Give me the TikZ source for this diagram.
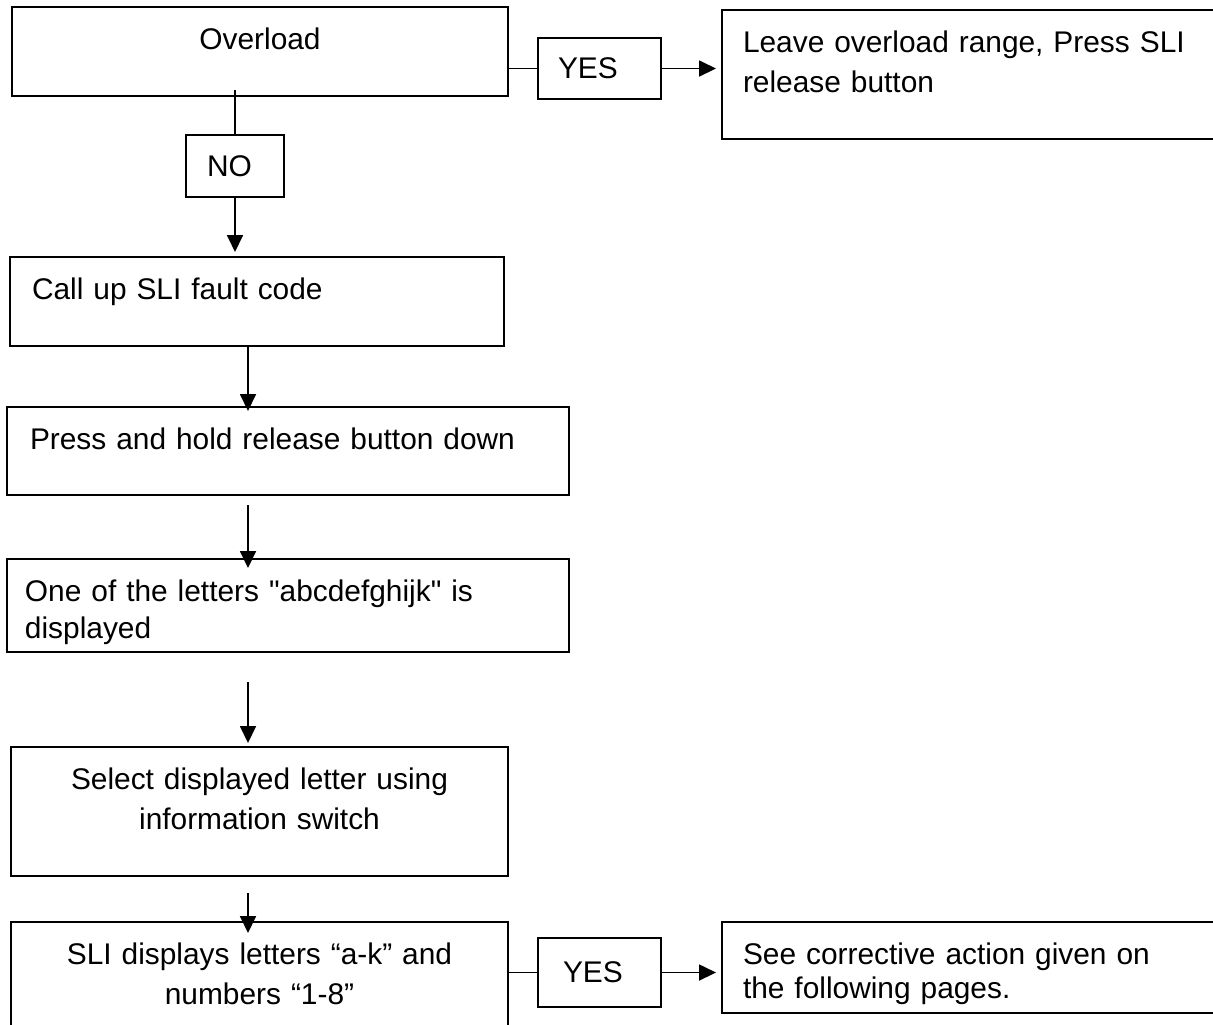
\documentclass[tikz,border=0pt]{standalone}
\usepackage{fontspec}
\setmainfont{Liberation Sans}[Ligatures=TeXOff]
\usepackage{tikz}
\usetikzlibrary{positioning, arrows.meta}

\begin{document}
\begin{tikzpicture}[
            stepbox/.style={draw, line width=1.2pt, anchor=north west, outer sep=0pt, inner xsep=0.42cm, inner ysep=0.42cm, text height=0.43cm, font=\fontsize{17}{22.8}\selectfont},
            answerbox/.style={draw, line width=1.2pt, anchor=north west, outer sep=0pt, align=left, minimum width=2.46cm, font=\fontsize{17}{22.8}\selectfont},
            link/.style={line width=1pt},
            flow/.style={link, -{Triangle[length=0.34cm, width=0.32cm]}}
        ]
            \useasboundingbox (0, 0) rectangle (24.26, -20.48);

            \coordinate (spine) at (4.96, 0);

            \node[stepbox, align=center, text width=9.08cm, text depth=0.51cm] at (0.24, -0.14) (overload) {Overload};

            \node[answerbox, minimum height=1.22cm, inner xsep=0.4cm, text width=1.66cm] at (10.76, -0.76) (yes1) {YES};

            \node[stepbox, align=left, text width=9.52cm, text depth=1.31cm] at (14.44, -0.20) (leave) {
                Leave overload range, Press SLI\\
                release button
            };

            \node[answerbox, minimum width=1.96cm, minimum height=1.24cm, inner xsep=0.42cm, text width=1.12cm] at (3.72, -2.70) (no) {NO};

            \node[stepbox, align=left, inner xsep=0.44cm, text width=9.0cm, text depth=0.51cm] at (0.20, -5.14) (callup) {Call up SLI fault code};

            \node[stepbox, align=left, inner xsep=0.46cm, text width=10.32cm, text depth=0.49cm] at (0.14, -8.14) (press) {Press and hold release button down};

            \node[stepbox, align=left, inner xsep=0.36cm, text width=10.52cm, text depth=0.59cm, font=\fontsize{17}{21}\selectfont] at (0.14, -11.18) (oneof) {
                One of the letters "abcdefghijk" is\\
                displayed
            };

            \node[stepbox, align=center, text width=9.10cm, text depth=1.31cm] at (0.22, -14.94) (select) {
                Select displayed letter using\\
                information switch
            };

            \node[stepbox, align=center, text width=9.10cm, text depth=1.09cm] at (0.22, -18.44) (sli) {
                SLI displays letters “a-k” and\\
                numbers “1-8”
            };

            \node[answerbox, minimum height=1.38cm, inner xsep=0.5cm, text width=1.46cm] at (10.76, -18.76) (yes2) {YES};

            \node[stepbox, align=left, text width=9.52cm, text depth=0.55cm, font=\fontsize{17}{19.4}\selectfont] at (14.44, -18.44) (see) {
                See corrective action given on\\
                the following pages.
            };

            % overload branch
            \draw[link] (yes1.west) -- (yes1.west -| overload.east);
            \draw[flow, shorten >=0.12cm] (yes1.east) -- (yes1.east -| leave.west);
            \draw[link] (no.north) -- ([yshift=0.12cm]no.north |- overload.south);
            \draw[flow, shorten >=0.1cm] (no.south) -- (no.south |- callup.north);

            % main column
            \draw[flow, shorten >=-0.08cm] (spine |- callup.south) -- (spine |- press.north);
            \draw[flow, shorten <=0.2cm, shorten >=-0.18cm] (spine |- press.south) -- (spine |- oneof.north);
            \draw[flow, shorten <=0.6cm, shorten >=0.08cm] (spine |- oneof.south) -- (spine |- select.north);
            \draw[flow, shorten <=0.34cm, shorten >=-0.22cm] (spine |- select.south) -- (spine |- sli.north);

            % result branch
            \draw[link] (yes2.west) -- (yes2.west -| sli.east);
            \draw[flow, shorten >=0.12cm] (yes2.east) -- (yes2.east -| see.west);

        \end{tikzpicture}
\end{document}
